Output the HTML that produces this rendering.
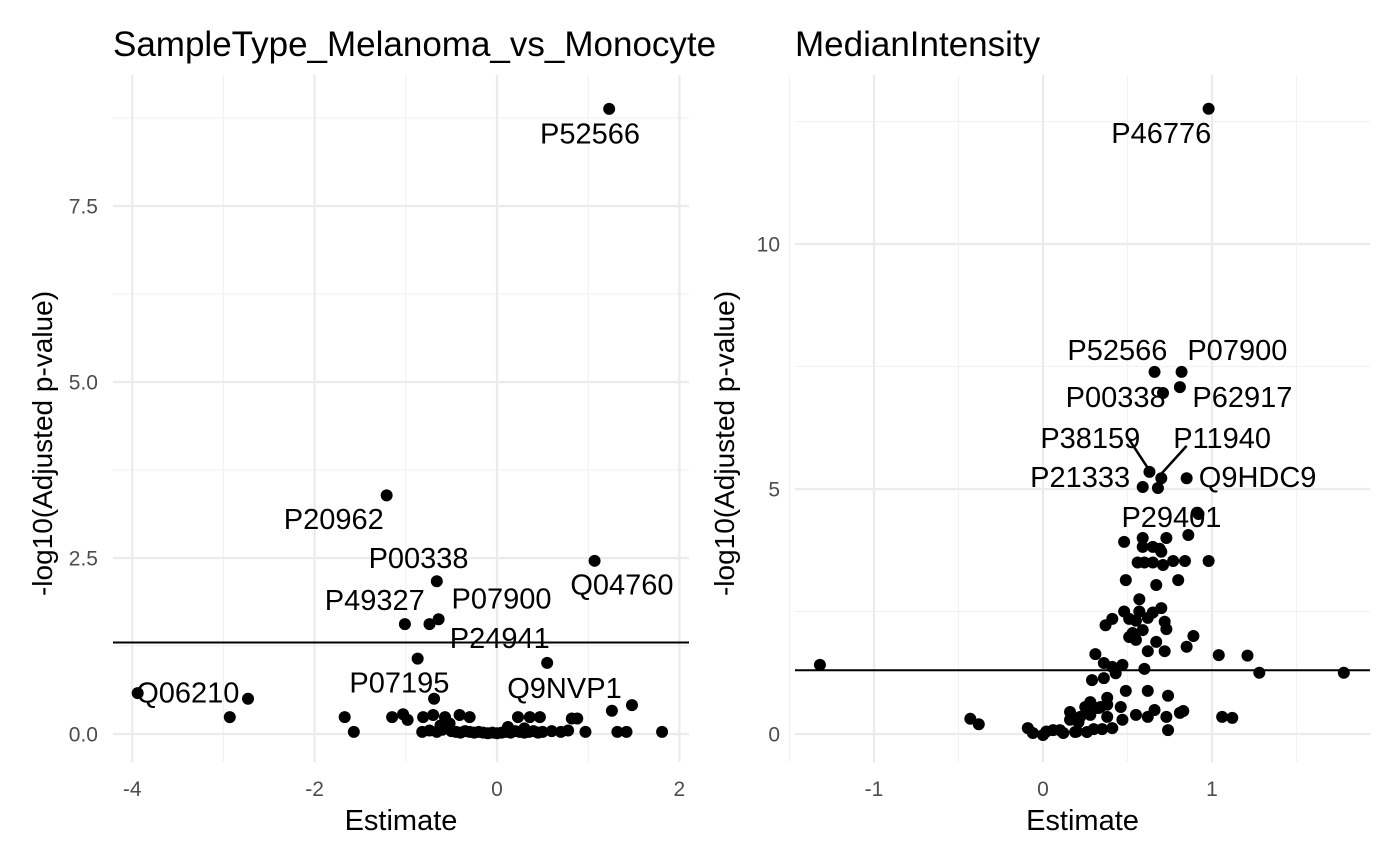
<!DOCTYPE html>
<html><head><meta charset="utf-8"><style>
html,body{margin:0;padding:0;background:#fff;width:1400px;height:866px;overflow:hidden}
svg{font-family:"Liberation Sans",Arial,sans-serif}
</style></head><body>
<svg id="chart" width="1400" height="866"></svg>
<script>
// ---- Left panel data ----
const leftX = [1.23,-1.21,-0.66,1.07,-1.01,-0.74,-0.64,-0.87,0.55,-0.69,-3.94,-2.73,-2.93,-1.67,-1.57,-1.15,-1.03,-0.98,-0.81,-0.70,-0.57,-0.41,-0.30,0.23,0.36,0.47,0.82,0.88,0.97,1.26,1.32,1.48,1.42,1.81,
 -0.82,-0.74,-0.66,-0.6,-0.5,-0.45,-0.4,-0.35,-0.3,-0.25,-0.2,-0.15,-0.1,-0.05,0,0.05,0.1,0.15,0.2,0.25,0.3,0.35,0.4,0.45,0.5,0.6,0.7,0.78,-0.62,0.12,0.3,-0.52];
const leftY = [8.88,3.39,2.17,2.46,1.56,1.56,1.63,1.07,1.01,0.50,0.58,0.50,0.24,0.24,0.03,0.24,0.28,0.20,0.24,0.27,0.24,0.27,0.24,0.24,0.24,0.24,0.22,0.22,0.03,0.33,0.03,0.41,0.03,0.03,
 0.03,0.05,0.03,0.06,0.04,0.03,0.02,0.04,0.03,0.02,0.03,0.02,0.01,0.02,0.01,0.02,0.03,0.02,0.04,0.03,0.02,0.03,0.04,0.02,0.03,0.04,0.03,0.05,0.12,0.1,0.08,0.15];
const leftLabels = ["P52566","P20962","P00338","Q04760","P49327","P07900","P24941","P07195","Q06210","Q9NVP1"];
const leftLabelX = [1.02,-1.79,-0.86,1.37,-1.34,0.05,0.03,-1.07,-3.39,0.74];
const leftLabelY = [8.39,2.91,2.36,1.98,1.76,1.78,1.22,0.59,0.45,0.51];
// ---- Right panel data ----
const rightX = [0.98,0.66,0.82,0.71,0.81,0.63,0.70,0.59,0.68,0.85,0.92,
 0.48,0.59,0.73,0.86,0.59,0.65,0.69,0.70,0.56,0.60,0.65,0.71,0.77,0.84,0.98,0.49,0.67,0.80,0.57,0.48,0.57,0.65,0.70,0.51,0.55,0.62,0.72,0.37,0.41,0.53,0.59,0.73,0.51,0.55,0.67,0.89,0.62,0.72,0.85,1.04,0.31,0.36,0.41,0.47,0.60,0.29,0.36,0.43,0.49,0.62,0.74,0.28,0.34,0.38,0.25,0.31,0.38,0.16,0.33,0.46,0.22,0.28,0.38,0.47,0.55,0.62,0.66,0.73,0.81,0.83,1.06,1.12,0.16,0.21,-0.09,-0.06,0,0.06,0.12,0.19,0.26,0.35,0.74,
 1.21,1.28,1.78,-1.32,-0.43,-0.38,0.02,0.1,0.2,0.3,0.41];
const rightY = [12.76,7.39,7.39,6.96,7.08,5.35,5.22,5.04,5.02,5.22,4.49,
 3.92,4.0,4.0,4.06,3.82,3.82,3.78,3.72,3.5,3.5,3.5,3.45,3.53,3.53,3.53,3.14,3.04,3.14,2.75,2.5,2.5,2.48,2.57,2.35,2.31,2.37,2.29,2.22,2.35,2.06,2.12,2.14,1.98,1.92,1.88,2.0,1.69,1.69,1.78,1.61,1.63,1.45,1.37,1.41,1.33,1.10,1.14,1.24,0.88,0.88,0.78,0.65,0.55,0.74,0.55,0.53,0.6,0.45,0.53,0.55,0.35,0.39,0.35,0.29,0.39,0.35,0.49,0.35,0.43,0.47,0.35,0.33,0.29,0.24,0.12,0.02,-0.02,0.08,0.02,0.04,0.04,0.1,0.08,
 1.6,1.25,1.25,1.41,0.31,0.2,0.05,0.08,0.05,0.1,0.12];
const rightLabels = ["P46776","P52566","P07900","P00338","P62917","P38159","P11940","P21333","Q9HDC9","P29401"];
const rightLabelX = [0.70,0.44,1.15,0.43,1.18,0.28,1.06,0.22,1.27,0.76];
const rightLabelY = [12.06,7.63,7.63,6.67,6.67,5.84,5.84,5.04,5.04,4.22];
const leftXTicks = [-4,-2,0,2], leftXTickLabels = ["-4","-2","0","2"];
const leftYTicks = [0,2.5,5,7.5], leftYTickLabels = ["0.0","2.5","5.0","7.5"];
const rightXTicks = [-1,0,1], rightXTickLabels = ["-1","0","1"];
const rightYTicks = [0,5,10], rightYTickLabels = ["0","5","10"];
const threshold = 1.3;

const NS="http://www.w3.org/2000/svg";
const svg=document.getElementById('chart');
function mk(tag,attrs,parent){const e=document.createElementNS(NS,tag);for(const k in attrs)e.setAttribute(k,attrs[k]);(parent||svg).appendChild(e);return e;}

function panel(cfg){
  const g=mk('g',{});
  
  
  const sx=v=>cfg.x0+(v-cfg.xv0)*cfg.xs, sy=v=>cfg.y0-(v)*cfg.ys;
  cfg.xMinor.forEach(v=>{const l=mk('line',{x1:sx(v),x2:sx(v),y1:cfg.top,y2:cfg.bottom,stroke:'#f2f2f2','stroke-width':1.2},g);});
  cfg.yMinor.forEach(v=>{const l=mk('line',{x1:cfg.left,x2:cfg.right,y1:sy(v),y2:sy(v),stroke:'#f2f2f2','stroke-width':1.2},g);});
  cfg.xt.forEach((v,i)=>{const l=mk('line',{x1:sx(v),x2:sx(v),y1:cfg.top,y2:cfg.bottom,stroke:'#ebebeb','stroke-width':2.2},g);
    const t=mk('text',{x:sx(v),y:cfg.bottom+34,'text-anchor':'middle','font-size':21,fill:'#4d4d4d'},g);t.textContent=cfg.xtl[i];});
  cfg.yt.forEach((v,i)=>{const l=mk('line',{x1:cfg.left,x2:cfg.right,y1:sy(v),y2:sy(v),stroke:'#ebebeb','stroke-width':2.2},g);
    const t=mk('text',{x:cfg.left-15,y:sy(v)+7.5,'text-anchor':'end','font-size':21,fill:'#4d4d4d'},g);t.textContent=cfg.ytl[i];});
  const th=mk('line',{x1:cfg.left,x2:cfg.right,y1:sy(threshold),y2:sy(threshold),stroke:'#000','stroke-width':2},g);
  
  cfg.px.forEach((v,i)=>{const c=mk('circle',{cx:sx(v),cy:sy(cfg.py[i]),r:6,fill:'#000'},g);});
  (cfg.segs||[]).forEach(s=>{const l=mk('line',{x1:sx(s[0]),y1:sy(s[1]),x2:sx(s[2]),y2:sy(s[3]),stroke:'#000','stroke-width':2.5},g);});
  cfg.lt.forEach((s,i)=>{const t=mk('text',{x:sx(cfg.lx[i]),y:sy(cfg.ly[i]),'text-anchor':'middle','font-size':29,fill:'#000'},g);t.textContent=s;});
  const tt=mk('text',{x:cfg.left,y:56,'font-size':35,fill:'#000'},g);tt.textContent=cfg.title;
  const xa=mk('text',{x:(cfg.left+cfg.right)/2,y:830,'text-anchor':'middle','font-size':29,fill:'#000'},g);xa.textContent='Estimate';
  const ya=mk('text',{x:0,y:0,'text-anchor':'middle','font-size':28,fill:'#000',transform:`translate(${cfg.left-61},${(cfg.top+cfg.bottom)/2+25}) rotate(-90)`},g);ya.textContent='-log10(Adjusted p-value)';
}
panel({name:'left-panel',title:'SampleType_Melanoma_vs_Monocyte',x0:497,xv0:0,xs:91.2,y0:734,ys:70.4,left:113,right:689,top:75,bottom:762,
  xt:leftXTicks,xtl:leftXTickLabels,yt:leftYTicks,ytl:leftYTickLabels,xMinor:[-3,-1,1],yMinor:[1.25,3.75,6.25,8.75],
  px:leftX,py:leftY,lt:leftLabels,lx:leftLabelX,ly:leftLabelY});
panel({name:'right-panel',title:'MedianIntensity',x0:1043,xv0:0,xs:169,y0:734,ys:49,left:795,right:1370,top:75,bottom:762,
  xt:rightXTicks,xtl:rightXTickLabels,yt:rightYTicks,ytl:rightYTickLabels,xMinor:[-1.5,-0.5,0.5,1.5],yMinor:[2.5,7.5,12.5],
  px:rightX,py:rightY,lt:rightLabels,lx:rightLabelX,ly:rightLabelY,segs:[[0.50,6.06,0.62,5.43],[0.85,5.88,0.70,5.31]]});
</script>
</body></html>
